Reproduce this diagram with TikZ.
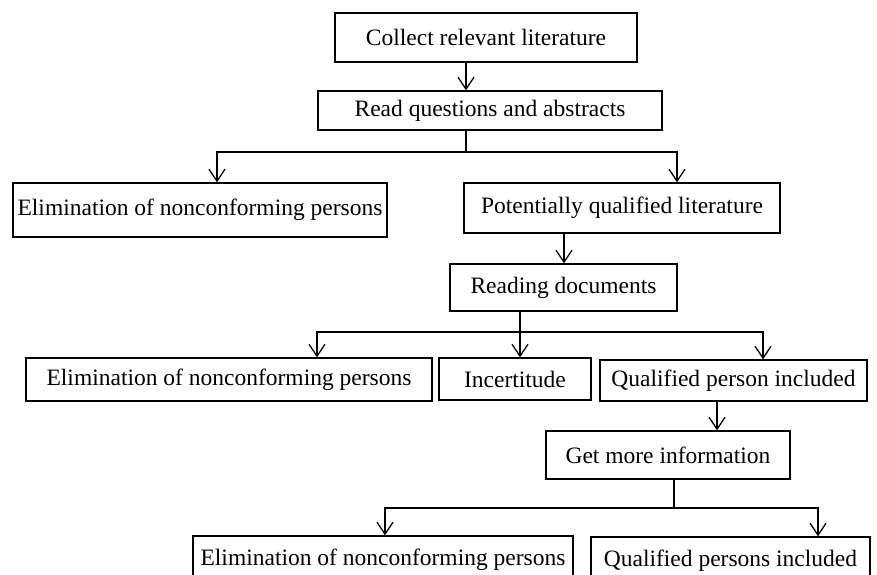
\documentclass[tikz,border=0pt]{standalone}
\usepackage{fontspec}
\setmainfont{Liberation Serif}
\usetikzlibrary{arrows.meta}
\usetikzlibrary{positioning}
\usetikzlibrary{calc}

\begin{document}
\begin{tikzpicture}[x=1pt, y=-1pt,
    box/.style={draw, line width=1.3pt, inner sep=0pt,
        font=\fontsize{23.5}{28}\selectfont},
    link/.style={line width=1.3pt},
    flow/.style={line width=1.3pt,
        -{Straight Barb[length=12pt, width=16pt, line width=1.3pt]}}]

% Screening flow

\clip (0,0) rectangle (877,574);

\node [box, minimum width=302pt, minimum height=49pt] (collect)
    at (486,37.5) {Collect relevant literature};
\node [box, minimum width=344pt, minimum height=39pt] (read)
    at (490,110.5) {Read questions and abstracts};

\node [box, minimum width=374pt, minimum height=54pt] (elimA)
    at (200,210) {Elimination of nonconforming persons};
\node [box, minimum width=316pt, minimum height=50pt] (potential)
    at (622,208) {Potentially qualified literature};

\node [box, minimum width=227pt, minimum height=47pt] (reading)
    at (563.5,287.5) {Reading documents};

\node [box, minimum width=406pt, minimum height=43pt] (elimB)
    at (229,379.5) {Elimination of nonconforming persons};
\node [box, minimum width=152pt, minimum height=42pt] (incert)
    at (515,379) {Incertitude};
\node [box, minimum width=267pt, minimum height=41pt] (qualified)
    at (733.5,380.5) {Qualified person included};

\node [box, minimum width=244pt, minimum height=48pt] (getinfo)
    at (668,455) {Get more information};

\node [box, minimum width=380pt, minimum height=48pt] (elimC)
    at (383,560) {Elimination of nonconforming persons};
\node [box, minimum width=279pt, minimum height=48pt] (included)
    at (730.5,561) {Qualified persons included};

% forks
\coordinate (fork1) at (466,152);
\coordinate (fork2) at (520,332);
\coordinate (fork3) at (674,508);

\draw [flow] ([xshift=-20pt]collect.south) -- ([xshift=-20pt]collect.south |- read.north);

\draw [link] (read.south -| fork1) -- (fork1);
\draw [flow] (fork1) -| ([xshift=17pt]elimA.north);
\draw [flow] (fork1) -| ([xshift=55pt]potential.north);

\draw [flow] ([xshift=-58pt]potential.south) -- ([xshift=-58pt]potential.south |- reading.north);

\draw [link] (reading.south -| fork2) -- (fork2);
\draw [flow] (fork2) -| ([xshift=88pt]elimB.north);
\draw [flow] (fork2) -- (fork2 |- incert.north);
\draw [flow] (fork2) -| ([xshift=29.5pt]qualified.north);

\draw [flow] ([xshift=-16.5pt]qualified.south) -- ([xshift=-16.5pt]qualified.south |- getinfo.north);

\draw [link] (getinfo.south -| fork3) -- (fork3);
\draw [flow] (fork3) -| ([xshift=2pt]elimC.north);
\draw [flow] (fork3) -| ([xshift=87.5pt]included.north);

\end{tikzpicture}
\end{document}
